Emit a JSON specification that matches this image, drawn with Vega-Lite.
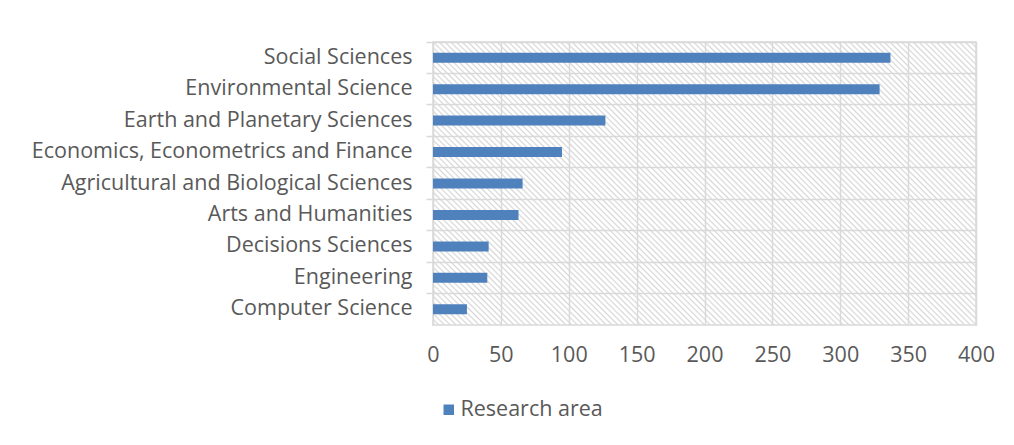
{
  "$schema": "https://vega.github.io/schema/vega-lite/v6.json",
  "autosize": {"type": "none"},
  "padding": {"left": 433, "top": 42, "right": 38, "bottom": 120},
  "width": 543,
  "height": 283,
  "background": "white",
  "data": {"values": [
    {"area": "Social Sciences", "count": 337, "series": "Research area"},
    {"area": "Environmental Science", "count": 329, "series": "Research area"},
    {"area": "Earth and Planetary Sciences", "count": 127, "series": "Research area"},
    {"area": "Economics, Econometrics and Finance ", "count": 95, "series": "Research area"},
    {"area": "Agricultural and Biological Sciences", "count": 66, "series": "Research area"},
    {"area": "Arts and Humanities", "count": 63, "series": "Research area"},
    {"area": "Decisions Sciences", "count": 41, "series": "Research area"},
    {"area": "Engineering", "count": 40, "series": "Research area"},
    {"area": "Computer Science", "count": 25, "series": "Research area"}
  ]},
  "mark": {"type": "bar", "size": 10},
  "encoding": {
    "y": {
      "field": "area", "type": "nominal", "sort": null,
      "scale": {"paddingInner": 0, "paddingOuter": 0},
      "axis": {
        "title": null, "bandPosition": 0, "grid": true, "gridColor": "#d9d9d9", "gridWidth": 1.5,
        "domain": false, "tickColor": "#d9d9d9", "tickSize": 7, "tickWidth": 1.5,
        "labelFont": "Open Sans", "labelFontSize": 21.5, "labelColor": "#595959", "labelPadding": 14, "labelLimit": 0
      }
    },
    "x": {
      "field": "count", "type": "quantitative",
      "scale": {"domain": [0, 400], "nice": false},
      "axis": {
        "title": null, "values": [0, 50, 100, 150, 200, 250, 300, 350, 400],
        "grid": true, "gridColor": "#d9d9d9", "gridWidth": 1.5,
        "domain": false, "ticks": false, "labelFlush": false,
        "labelFont": "Open Sans", "labelFontSize": 21.5, "labelColor": "#595959", "labelPadding": 19
      }
    },
    "color": {
      "field": "series", "type": "nominal",
      "scale": {"range": ["#4f81bd"]},
      "legend": {
        "title": null, "orient": "none", "legendX": 5, "legendY": 357,
        "symbolType": "square", "symbolSize": 110, "symbolStrokeWidth": 0,
        "labelFont": "Open Sans", "labelFontSize": 21.5, "labelColor": "#595959", "labelOffset": 1
      }
    }
  },
  "config": {
    "view": {
      "stroke": "#d9d9d9", "strokeWidth": 1.5,
      "fill": {
        "gradient": "linear", "x1": 0, "y1": 1, "x2": 1.196, "y2": 0.377,
        "stops": [
          {"offset":0.000,"color":"#d6d6d6"},{"offset":0.002,"color":"#ffffff"},{"offset":0.005,"color":"#ffffff"},
          {"offset":0.007,"color":"#d6d6d6"},{"offset":0.009,"color":"#ffffff"},{"offset":0.012,"color":"#ffffff"},
          {"offset":0.014,"color":"#d6d6d6"},{"offset":0.016,"color":"#ffffff"},{"offset":0.019,"color":"#ffffff"},
          {"offset":0.021,"color":"#d6d6d6"},{"offset":0.023,"color":"#ffffff"},{"offset":0.026,"color":"#ffffff"},
          {"offset":0.028,"color":"#d6d6d6"},{"offset":0.030,"color":"#ffffff"},{"offset":0.033,"color":"#ffffff"},
          {"offset":0.035,"color":"#d6d6d6"},{"offset":0.037,"color":"#ffffff"},{"offset":0.040,"color":"#ffffff"},
          {"offset":0.042,"color":"#d6d6d6"},{"offset":0.044,"color":"#ffffff"},{"offset":0.047,"color":"#ffffff"},
          {"offset":0.049,"color":"#d6d6d6"},{"offset":0.051,"color":"#ffffff"},{"offset":0.054,"color":"#ffffff"},
          {"offset":0.056,"color":"#d6d6d6"},{"offset":0.058,"color":"#ffffff"},{"offset":0.061,"color":"#ffffff"},
          {"offset":0.063,"color":"#d6d6d6"},{"offset":0.065,"color":"#ffffff"},{"offset":0.068,"color":"#ffffff"},
          {"offset":0.070,"color":"#d6d6d6"},{"offset":0.072,"color":"#ffffff"},{"offset":0.075,"color":"#ffffff"},
          {"offset":0.077,"color":"#d6d6d6"},{"offset":0.079,"color":"#ffffff"},{"offset":0.082,"color":"#ffffff"},
          {"offset":0.084,"color":"#d6d6d6"},{"offset":0.086,"color":"#ffffff"},{"offset":0.089,"color":"#ffffff"},
          {"offset":0.091,"color":"#d6d6d6"},{"offset":0.093,"color":"#ffffff"},{"offset":0.096,"color":"#ffffff"},
          {"offset":0.098,"color":"#d6d6d6"},{"offset":0.100,"color":"#ffffff"},{"offset":0.103,"color":"#ffffff"},
          {"offset":0.105,"color":"#d6d6d6"},{"offset":0.107,"color":"#ffffff"},{"offset":0.110,"color":"#ffffff"},
          {"offset":0.112,"color":"#d6d6d6"},{"offset":0.114,"color":"#ffffff"},{"offset":0.117,"color":"#ffffff"},
          {"offset":0.119,"color":"#d6d6d6"},{"offset":0.121,"color":"#ffffff"},{"offset":0.124,"color":"#ffffff"},
          {"offset":0.126,"color":"#d6d6d6"},{"offset":0.128,"color":"#ffffff"},{"offset":0.131,"color":"#ffffff"},
          {"offset":0.133,"color":"#d6d6d6"},{"offset":0.135,"color":"#ffffff"},{"offset":0.138,"color":"#ffffff"},
          {"offset":0.140,"color":"#d6d6d6"},{"offset":0.142,"color":"#ffffff"},{"offset":0.145,"color":"#ffffff"},
          {"offset":0.147,"color":"#d6d6d6"},{"offset":0.149,"color":"#ffffff"},{"offset":0.152,"color":"#ffffff"},
          {"offset":0.154,"color":"#d6d6d6"},{"offset":0.156,"color":"#ffffff"},{"offset":0.159,"color":"#ffffff"},
          {"offset":0.161,"color":"#d6d6d6"},{"offset":0.163,"color":"#ffffff"},{"offset":0.166,"color":"#ffffff"},
          {"offset":0.168,"color":"#d6d6d6"},{"offset":0.170,"color":"#ffffff"},{"offset":0.173,"color":"#ffffff"},
          {"offset":0.175,"color":"#d6d6d6"},{"offset":0.177,"color":"#ffffff"},{"offset":0.180,"color":"#ffffff"},
          {"offset":0.182,"color":"#d6d6d6"},{"offset":0.184,"color":"#ffffff"},{"offset":0.187,"color":"#ffffff"},
          {"offset":0.189,"color":"#d6d6d6"},{"offset":0.191,"color":"#ffffff"},{"offset":0.194,"color":"#ffffff"},
          {"offset":0.196,"color":"#d6d6d6"},{"offset":0.198,"color":"#ffffff"},{"offset":0.201,"color":"#ffffff"},
          {"offset":0.203,"color":"#d6d6d6"},{"offset":0.205,"color":"#ffffff"},{"offset":0.208,"color":"#ffffff"},
          {"offset":0.210,"color":"#d6d6d6"},{"offset":0.212,"color":"#ffffff"},{"offset":0.215,"color":"#ffffff"},
          {"offset":0.217,"color":"#d6d6d6"},{"offset":0.219,"color":"#ffffff"},{"offset":0.222,"color":"#ffffff"},
          {"offset":0.224,"color":"#d6d6d6"},{"offset":0.226,"color":"#ffffff"},{"offset":0.229,"color":"#ffffff"},
          {"offset":0.231,"color":"#d6d6d6"},{"offset":0.233,"color":"#ffffff"},{"offset":0.236,"color":"#ffffff"},
          {"offset":0.238,"color":"#d6d6d6"},{"offset":0.240,"color":"#ffffff"},{"offset":0.243,"color":"#ffffff"},
          {"offset":0.245,"color":"#d6d6d6"},{"offset":0.247,"color":"#ffffff"},{"offset":0.250,"color":"#ffffff"},
          {"offset":0.252,"color":"#d6d6d6"},{"offset":0.254,"color":"#ffffff"},{"offset":0.257,"color":"#ffffff"},
          {"offset":0.259,"color":"#d6d6d6"},{"offset":0.261,"color":"#ffffff"},{"offset":0.264,"color":"#ffffff"},
          {"offset":0.266,"color":"#d6d6d6"},{"offset":0.268,"color":"#ffffff"},{"offset":0.271,"color":"#ffffff"},
          {"offset":0.273,"color":"#d6d6d6"},{"offset":0.275,"color":"#ffffff"},{"offset":0.278,"color":"#ffffff"},
          {"offset":0.280,"color":"#d6d6d6"},{"offset":0.282,"color":"#ffffff"},{"offset":0.285,"color":"#ffffff"},
          {"offset":0.287,"color":"#d6d6d6"},{"offset":0.289,"color":"#ffffff"},{"offset":0.292,"color":"#ffffff"},
          {"offset":0.294,"color":"#d6d6d6"},{"offset":0.296,"color":"#ffffff"},{"offset":0.299,"color":"#ffffff"},
          {"offset":0.301,"color":"#d6d6d6"},{"offset":0.303,"color":"#ffffff"},{"offset":0.306,"color":"#ffffff"},
          {"offset":0.308,"color":"#d6d6d6"},{"offset":0.310,"color":"#ffffff"},{"offset":0.313,"color":"#ffffff"},
          {"offset":0.315,"color":"#d6d6d6"},{"offset":0.317,"color":"#ffffff"},{"offset":0.320,"color":"#ffffff"},
          {"offset":0.322,"color":"#d6d6d6"},{"offset":0.324,"color":"#ffffff"},{"offset":0.327,"color":"#ffffff"},
          {"offset":0.329,"color":"#d6d6d6"},{"offset":0.331,"color":"#ffffff"},{"offset":0.334,"color":"#ffffff"},
          {"offset":0.336,"color":"#d6d6d6"},{"offset":0.338,"color":"#ffffff"},{"offset":0.341,"color":"#ffffff"},
          {"offset":0.343,"color":"#d6d6d6"},{"offset":0.345,"color":"#ffffff"},{"offset":0.348,"color":"#ffffff"},
          {"offset":0.350,"color":"#d6d6d6"},{"offset":0.352,"color":"#ffffff"},{"offset":0.355,"color":"#ffffff"},
          {"offset":0.357,"color":"#d6d6d6"},{"offset":0.359,"color":"#ffffff"},{"offset":0.362,"color":"#ffffff"},
          {"offset":0.364,"color":"#d6d6d6"},{"offset":0.366,"color":"#ffffff"},{"offset":0.369,"color":"#ffffff"},
          {"offset":0.371,"color":"#d6d6d6"},{"offset":0.373,"color":"#ffffff"},{"offset":0.376,"color":"#ffffff"},
          {"offset":0.378,"color":"#d6d6d6"},{"offset":0.380,"color":"#ffffff"},{"offset":0.383,"color":"#ffffff"},
          {"offset":0.385,"color":"#d6d6d6"},{"offset":0.387,"color":"#ffffff"},{"offset":0.390,"color":"#ffffff"},
          {"offset":0.392,"color":"#d6d6d6"},{"offset":0.394,"color":"#ffffff"},{"offset":0.397,"color":"#ffffff"},
          {"offset":0.399,"color":"#d6d6d6"},{"offset":0.401,"color":"#ffffff"},{"offset":0.404,"color":"#ffffff"},
          {"offset":0.406,"color":"#d6d6d6"},{"offset":0.408,"color":"#ffffff"},{"offset":0.411,"color":"#ffffff"},
          {"offset":0.413,"color":"#d6d6d6"},{"offset":0.415,"color":"#ffffff"},{"offset":0.418,"color":"#ffffff"},
          {"offset":0.420,"color":"#d6d6d6"},{"offset":0.422,"color":"#ffffff"},{"offset":0.425,"color":"#ffffff"},
          {"offset":0.427,"color":"#d6d6d6"},{"offset":0.429,"color":"#ffffff"},{"offset":0.432,"color":"#ffffff"},
          {"offset":0.434,"color":"#d6d6d6"},{"offset":0.436,"color":"#ffffff"},{"offset":0.439,"color":"#ffffff"},
          {"offset":0.441,"color":"#d6d6d6"},{"offset":0.443,"color":"#ffffff"},{"offset":0.446,"color":"#ffffff"},
          {"offset":0.448,"color":"#d6d6d6"},{"offset":0.450,"color":"#ffffff"},{"offset":0.453,"color":"#ffffff"},
          {"offset":0.455,"color":"#d6d6d6"},{"offset":0.457,"color":"#ffffff"},{"offset":0.460,"color":"#ffffff"},
          {"offset":0.462,"color":"#d6d6d6"},{"offset":0.464,"color":"#ffffff"},{"offset":0.467,"color":"#ffffff"},
          {"offset":0.469,"color":"#d6d6d6"},{"offset":0.471,"color":"#ffffff"},{"offset":0.474,"color":"#ffffff"},
          {"offset":0.476,"color":"#d6d6d6"},{"offset":0.478,"color":"#ffffff"},{"offset":0.481,"color":"#ffffff"},
          {"offset":0.483,"color":"#d6d6d6"},{"offset":0.485,"color":"#ffffff"},{"offset":0.488,"color":"#ffffff"},
          {"offset":0.490,"color":"#d6d6d6"},{"offset":0.492,"color":"#ffffff"},{"offset":0.495,"color":"#ffffff"},
          {"offset":0.497,"color":"#d6d6d6"},{"offset":0.499,"color":"#ffffff"},{"offset":0.502,"color":"#ffffff"},
          {"offset":0.504,"color":"#d6d6d6"},{"offset":0.506,"color":"#ffffff"},{"offset":0.509,"color":"#ffffff"},
          {"offset":0.511,"color":"#d6d6d6"},{"offset":0.513,"color":"#ffffff"},{"offset":0.516,"color":"#ffffff"},
          {"offset":0.518,"color":"#d6d6d6"},{"offset":0.520,"color":"#ffffff"},{"offset":0.523,"color":"#ffffff"},
          {"offset":0.525,"color":"#d6d6d6"},{"offset":0.527,"color":"#ffffff"},{"offset":0.530,"color":"#ffffff"},
          {"offset":0.532,"color":"#d6d6d6"},{"offset":0.534,"color":"#ffffff"},{"offset":0.537,"color":"#ffffff"},
          {"offset":0.539,"color":"#d6d6d6"},{"offset":0.541,"color":"#ffffff"},{"offset":0.544,"color":"#ffffff"},
          {"offset":0.546,"color":"#d6d6d6"},{"offset":0.548,"color":"#ffffff"},{"offset":0.551,"color":"#ffffff"},
          {"offset":0.553,"color":"#d6d6d6"},{"offset":0.555,"color":"#ffffff"},{"offset":0.558,"color":"#ffffff"},
          {"offset":0.560,"color":"#d6d6d6"},{"offset":0.562,"color":"#ffffff"},{"offset":0.565,"color":"#ffffff"},
          {"offset":0.567,"color":"#d6d6d6"},{"offset":0.569,"color":"#ffffff"},{"offset":0.572,"color":"#ffffff"},
          {"offset":0.574,"color":"#d6d6d6"},{"offset":0.576,"color":"#ffffff"},{"offset":0.579,"color":"#ffffff"},
          {"offset":0.581,"color":"#d6d6d6"},{"offset":0.583,"color":"#ffffff"},{"offset":0.586,"color":"#ffffff"},
          {"offset":0.588,"color":"#d6d6d6"},{"offset":0.590,"color":"#ffffff"},{"offset":0.593,"color":"#ffffff"},
          {"offset":0.595,"color":"#d6d6d6"},{"offset":0.597,"color":"#ffffff"},{"offset":0.600,"color":"#ffffff"},
          {"offset":0.602,"color":"#d6d6d6"},{"offset":0.604,"color":"#ffffff"},{"offset":0.607,"color":"#ffffff"},
          {"offset":0.609,"color":"#d6d6d6"},{"offset":0.611,"color":"#ffffff"},{"offset":0.614,"color":"#ffffff"},
          {"offset":0.616,"color":"#d6d6d6"},{"offset":0.618,"color":"#ffffff"},{"offset":0.621,"color":"#ffffff"},
          {"offset":0.623,"color":"#d6d6d6"},{"offset":0.625,"color":"#ffffff"},{"offset":0.628,"color":"#ffffff"},
          {"offset":0.630,"color":"#d6d6d6"},{"offset":0.632,"color":"#ffffff"},{"offset":0.635,"color":"#ffffff"},
          {"offset":0.637,"color":"#d6d6d6"},{"offset":0.639,"color":"#ffffff"},{"offset":0.642,"color":"#ffffff"},
          {"offset":0.644,"color":"#d6d6d6"},{"offset":0.646,"color":"#ffffff"},{"offset":0.649,"color":"#ffffff"},
          {"offset":0.651,"color":"#d6d6d6"},{"offset":0.653,"color":"#ffffff"},{"offset":0.656,"color":"#ffffff"},
          {"offset":0.658,"color":"#d6d6d6"},{"offset":0.660,"color":"#ffffff"},{"offset":0.663,"color":"#ffffff"},
          {"offset":0.665,"color":"#d6d6d6"},{"offset":0.667,"color":"#ffffff"},{"offset":0.670,"color":"#ffffff"},
          {"offset":0.672,"color":"#d6d6d6"},{"offset":0.674,"color":"#ffffff"},{"offset":0.677,"color":"#ffffff"},
          {"offset":0.679,"color":"#d6d6d6"},{"offset":0.681,"color":"#ffffff"},{"offset":0.684,"color":"#ffffff"},
          {"offset":0.686,"color":"#d6d6d6"},{"offset":0.688,"color":"#ffffff"},{"offset":0.691,"color":"#ffffff"},
          {"offset":0.693,"color":"#d6d6d6"},{"offset":0.695,"color":"#ffffff"},{"offset":0.698,"color":"#ffffff"},
          {"offset":0.700,"color":"#d6d6d6"},{"offset":0.702,"color":"#ffffff"},{"offset":0.705,"color":"#ffffff"},
          {"offset":0.707,"color":"#d6d6d6"},{"offset":0.709,"color":"#ffffff"},{"offset":0.712,"color":"#ffffff"},
          {"offset":0.714,"color":"#d6d6d6"},{"offset":0.716,"color":"#ffffff"},{"offset":0.719,"color":"#ffffff"},
          {"offset":0.721,"color":"#d6d6d6"},{"offset":0.723,"color":"#ffffff"},{"offset":0.726,"color":"#ffffff"},
          {"offset":0.728,"color":"#d6d6d6"},{"offset":0.730,"color":"#ffffff"},{"offset":0.733,"color":"#ffffff"},
          {"offset":0.735,"color":"#d6d6d6"},{"offset":0.737,"color":"#ffffff"},{"offset":0.740,"color":"#ffffff"},
          {"offset":0.742,"color":"#d6d6d6"},{"offset":0.744,"color":"#ffffff"},{"offset":0.747,"color":"#ffffff"},
          {"offset":0.749,"color":"#d6d6d6"},{"offset":0.751,"color":"#ffffff"},{"offset":0.754,"color":"#ffffff"},
          {"offset":0.756,"color":"#d6d6d6"},{"offset":0.758,"color":"#ffffff"},{"offset":0.761,"color":"#ffffff"},
          {"offset":0.763,"color":"#d6d6d6"},{"offset":0.765,"color":"#ffffff"},{"offset":0.768,"color":"#ffffff"},
          {"offset":0.770,"color":"#d6d6d6"},{"offset":0.772,"color":"#ffffff"},{"offset":0.775,"color":"#ffffff"},
          {"offset":0.777,"color":"#d6d6d6"},{"offset":0.779,"color":"#ffffff"},{"offset":0.782,"color":"#ffffff"},
          {"offset":0.784,"color":"#d6d6d6"},{"offset":0.786,"color":"#ffffff"},{"offset":0.789,"color":"#ffffff"},
          {"offset":0.791,"color":"#d6d6d6"},{"offset":0.793,"color":"#ffffff"},{"offset":0.796,"color":"#ffffff"},
          {"offset":0.798,"color":"#d6d6d6"},{"offset":0.800,"color":"#ffffff"},{"offset":0.803,"color":"#ffffff"},
          {"offset":0.805,"color":"#d6d6d6"},{"offset":0.807,"color":"#ffffff"},{"offset":0.810,"color":"#ffffff"},
          {"offset":0.812,"color":"#d6d6d6"},{"offset":0.814,"color":"#ffffff"},{"offset":0.817,"color":"#ffffff"},
          {"offset":0.819,"color":"#d6d6d6"},{"offset":0.821,"color":"#ffffff"},{"offset":0.824,"color":"#ffffff"},
          {"offset":0.826,"color":"#d6d6d6"},{"offset":0.828,"color":"#ffffff"},{"offset":0.831,"color":"#ffffff"},
          {"offset":0.833,"color":"#d6d6d6"},{"offset":0.835,"color":"#ffffff"},{"offset":0.838,"color":"#ffffff"},
          {"offset":0.840,"color":"#d6d6d6"},{"offset":0.842,"color":"#ffffff"},{"offset":0.845,"color":"#ffffff"},
          {"offset":0.847,"color":"#d6d6d6"},{"offset":0.849,"color":"#ffffff"},{"offset":0.852,"color":"#ffffff"},
          {"offset":0.854,"color":"#d6d6d6"},{"offset":0.856,"color":"#ffffff"},{"offset":0.859,"color":"#ffffff"},
          {"offset":0.861,"color":"#d6d6d6"},{"offset":0.863,"color":"#ffffff"},{"offset":0.866,"color":"#ffffff"},
          {"offset":0.868,"color":"#d6d6d6"},{"offset":0.870,"color":"#ffffff"},{"offset":0.873,"color":"#ffffff"},
          {"offset":0.875,"color":"#d6d6d6"},{"offset":0.877,"color":"#ffffff"},{"offset":0.880,"color":"#ffffff"},
          {"offset":0.882,"color":"#d6d6d6"},{"offset":0.884,"color":"#ffffff"},{"offset":0.887,"color":"#ffffff"},
          {"offset":0.889,"color":"#d6d6d6"},{"offset":0.891,"color":"#ffffff"},{"offset":0.894,"color":"#ffffff"},
          {"offset":0.896,"color":"#d6d6d6"},{"offset":0.898,"color":"#ffffff"},{"offset":0.901,"color":"#ffffff"},
          {"offset":0.903,"color":"#d6d6d6"},{"offset":0.905,"color":"#ffffff"},{"offset":0.908,"color":"#ffffff"},
          {"offset":0.910,"color":"#d6d6d6"},{"offset":0.912,"color":"#ffffff"},{"offset":0.915,"color":"#ffffff"},
          {"offset":0.917,"color":"#d6d6d6"},{"offset":0.919,"color":"#ffffff"},{"offset":0.922,"color":"#ffffff"},
          {"offset":0.924,"color":"#d6d6d6"},{"offset":0.926,"color":"#ffffff"},{"offset":0.929,"color":"#ffffff"},
          {"offset":0.931,"color":"#d6d6d6"},{"offset":0.933,"color":"#ffffff"},{"offset":0.936,"color":"#ffffff"},
          {"offset":0.938,"color":"#d6d6d6"},{"offset":0.940,"color":"#ffffff"},{"offset":0.943,"color":"#ffffff"},
          {"offset":0.945,"color":"#d6d6d6"},{"offset":0.947,"color":"#ffffff"},{"offset":0.950,"color":"#ffffff"},
          {"offset":0.952,"color":"#d6d6d6"},{"offset":0.954,"color":"#ffffff"},{"offset":0.957,"color":"#ffffff"},
          {"offset":0.959,"color":"#d6d6d6"},{"offset":0.961,"color":"#ffffff"},{"offset":0.964,"color":"#ffffff"},
          {"offset":0.966,"color":"#d6d6d6"},{"offset":0.968,"color":"#ffffff"},{"offset":0.971,"color":"#ffffff"},
          {"offset":0.973,"color":"#d6d6d6"},{"offset":0.975,"color":"#ffffff"},{"offset":0.978,"color":"#ffffff"},
          {"offset":0.980,"color":"#d6d6d6"},{"offset":0.982,"color":"#ffffff"},{"offset":0.985,"color":"#ffffff"},
          {"offset":0.987,"color":"#d6d6d6"},{"offset":0.989,"color":"#ffffff"},{"offset":0.992,"color":"#ffffff"},
          {"offset":0.994,"color":"#d6d6d6"},{"offset":0.996,"color":"#ffffff"},{"offset":0.999,"color":"#ffffff"},
          {"offset":1.000,"color":"#d6d6d6"}
        ]
      }
    }
  }
}
